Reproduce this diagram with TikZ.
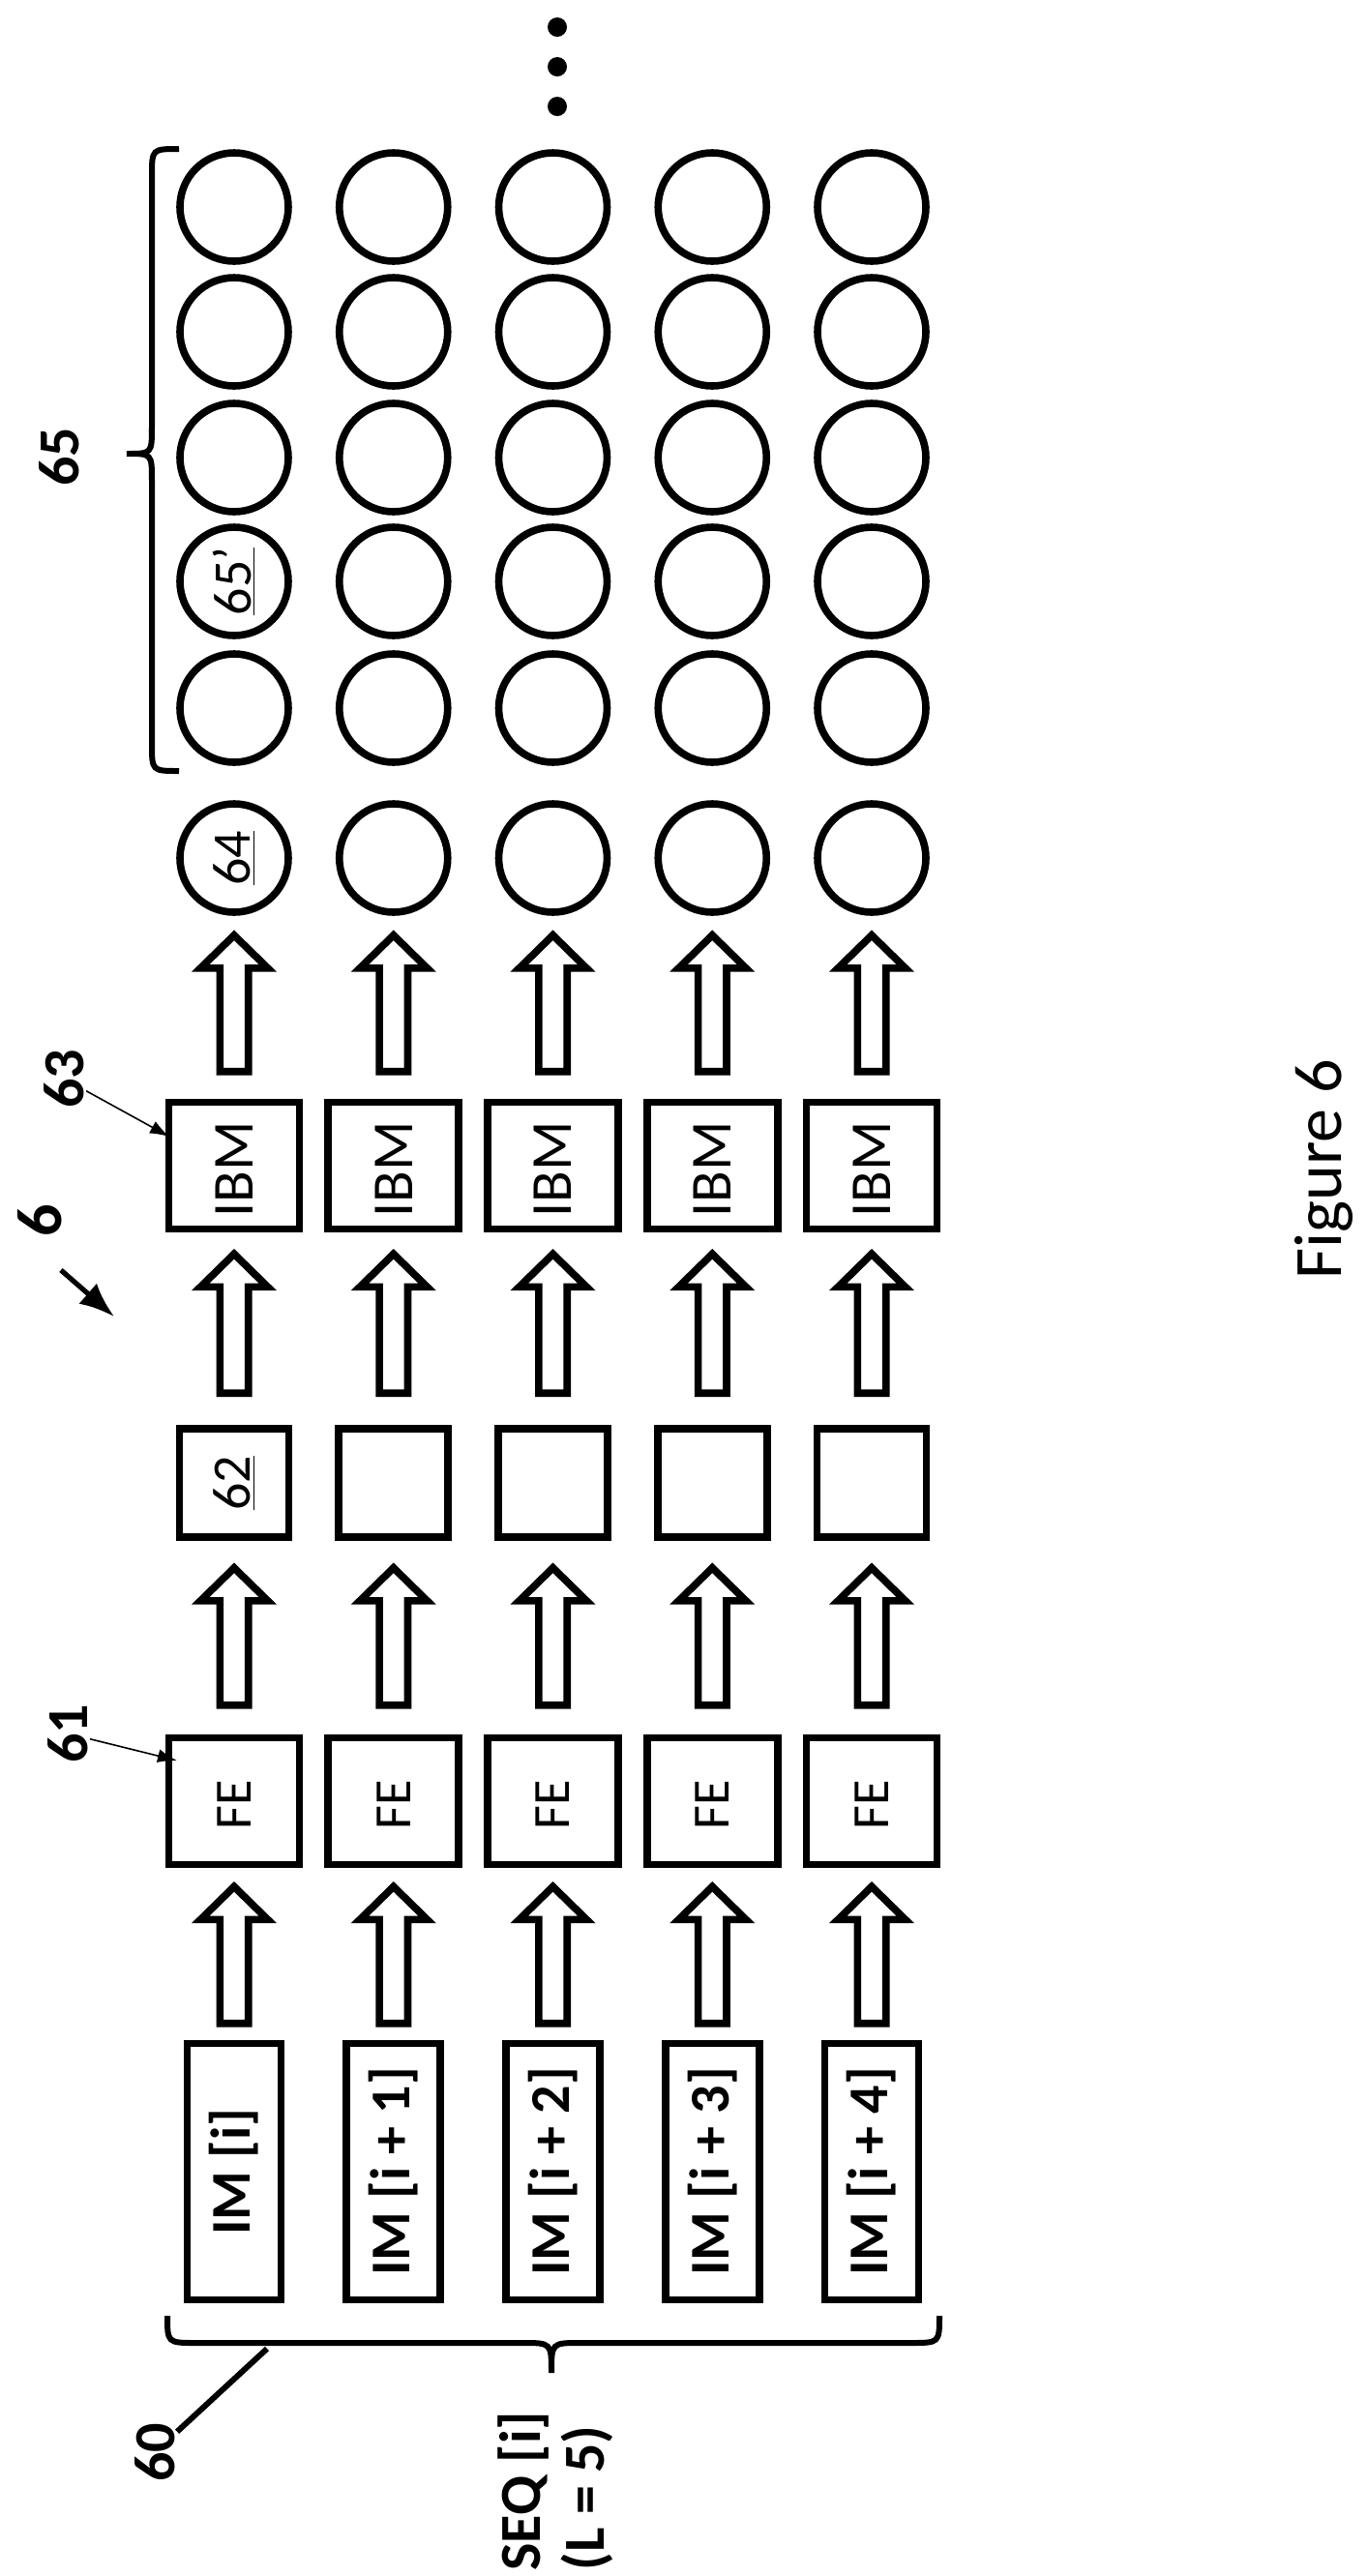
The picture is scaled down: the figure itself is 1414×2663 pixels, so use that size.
\documentclass[tikz,border=0pt]{standalone}
\usepackage{fontspec}
\setmainfont{Carlito}
\usetikzlibrary{shapes.geometric,calc,arrows.meta}
\begin{document}
\begin{tikzpicture}[x=0.5pt,y=-0.5pt,
  lw/.style={line width=3.8pt},
  imbox/.style={lw,draw,rectangle,minimum width=48.5pt,minimum height=132.5pt,inner sep=0pt,font=\fontsize{29}{34}\selectfont\bfseries},
  sqbox/.style={lw,draw,rectangle,minimum width=56.5pt,minimum height=56pt,inner sep=0pt,font=\fontsize{28}{32}\selectfont},
  trap/.style={lw,draw,trapezium,trapezium stretches body,trapezium left angle=75.7,trapezium right angle=75.7,minimum width=67.5pt,minimum height=65.5pt,inner sep=0pt},
  circ/.style={lw,draw,circle,minimum size=56pt,inner sep=0pt,font=\fontsize{28}{32}\selectfont},
  lab/.style={font=\fontsize{30}{34}\selectfont\bfseries,inner sep=1pt},
  thinarr/.style={line width=0.8pt,-{Latex[length=10pt,width=7pt]}},
  blk/.style={lw,line join=miter,to path={let \p1=(\tikztostart),\p2=(\tikztotarget) in
    (\x1-7.35pt,\y1) -- (\x1-7.35pt,\y2-17pt) -- (\x1-17.35pt,\y2-17pt) -- (\x1,\y2) --
    (\x1+17.35pt,\y2-17pt) -- (\x1+7.35pt,\y2-17pt) -- (\x1+7.35pt,\y1) -- cycle}}
]
\useasboundingbox (0,0) rectangle (1414,2663);
\newcommand\barrow[4]{\draw[blk] ($(#1.north)+(0,-#3)$) to ($(#2.south)+(0,#4)$);}
\foreach \i/\t in {0/{IM [i]},1/{IM [i + 1]},2/{IM [i + 2]},3/{IM [i + 3]},4/{IM [i + 4]}}{
  \pgfmathsetmacro\xc{242+164.75*\i}
  \node[imbox] (im\i) at (\xc,2245) {\rotatebox{90}{\t}};
  \node[trap] (fe\i) at (\xc,1862) {};
  \node[font=\fontsize{27}{32}\selectfont] at (\xc,1866) {\rotatebox{90}{FE}};
  \node[sqbox] (sq\i) at (\xc,1533) {};
  \node[trap] (ib\i) at (\xc,1205) {};
  \node[font=\fontsize{30}{34}\selectfont] at (\xc,1209) {\rotatebox{90}{IBM}};
  \node[circ] (c\i) at (\xc,887) {};
  \foreach \j/\yy in {0/732,1/601,2/473,3/343,4/214}{
    \node[circ] (k\i\j) at (\xc,\yy) {};
  }
  \barrow{im\i}{fe\i}{17}{19}
  \barrow{fe\i}{sq\i}{30}{28}
  \barrow{sq\i}{ib\i}{33}{22}
  \barrow{ib\i}{c\i}{28}{20}
}
\node[font=\fontsize{28}{32}\selectfont] at (sq0) {\rotatebox{90}{\underline{62}}};
\node[font=\fontsize{28}{32}\selectfont] at (c0) {\rotatebox{90}{\underline{64}}};
\node[font=\fontsize{28}{32}\selectfont] at (k01) {\rotatebox{90}{\underline{65’}}};
% dots
\foreach \y/\n in {28/a,69/b,110/c}{\fill (576,\y) circle (5pt);}
% brace 65
\draw[line width=3pt] (185,154) .. controls (157,154) .. (157,182) -- (157,441) .. controls (157,469) .. (131,469)
  .. controls (157,469) .. (157,497) -- (157,769) .. controls (157,797) .. (185,797);
\node[lab] (l65) at (61,472) {\rotatebox{90}{65}};
% bottom brace
\draw[line width=3pt] (173,2394) .. controls (173,2422) .. (203,2422) -- (540,2422) .. controls (570,2422) .. (570,2453)
  .. controls (570,2422) .. (600,2422) -- (941,2422) .. controls (971,2422) .. (971,2394);
\node[lab] (l60) at (160,2535) {\rotatebox{90}{60}};
\coordinate (e60) at (276,2428);
\draw[line width=3pt] (l60) -- (e60);
\node[lab,anchor=south,align=left] (seq) at (578,2660) {\rotatebox{90}{\fontsize{30}{33}\selectfont\begin{tabular}{@{}l@{}}SEQ [i]\\(L = 5)\end{tabular}}};
% labels 61, 63, 6
\node[lab] (l61) at (70,1792) {\rotatebox{90}{61}};
\coordinate (e61) at (183,1820);
\draw[thinarr] (l61) -- (e61);
\node[lab] (l63) at (66,1115) {\rotatebox{90}{63}};
\coordinate (e63) at (175,1175);
\draw[thinarr] (l63) -- (e63);
\node[font=\fontsize{33}{36}\selectfont\bfseries,inner sep=1pt] (l6) at (41,1262) {\rotatebox{90}{6}};
\coordinate (s6) at (63,1313);
\coordinate (e6) at (118,1361);
\draw[line width=2.6pt,-{Latex[length=18pt,width=14pt]}] (s6) -- (e6);
\node[font=\fontsize{35}{40}\selectfont] (fig) at (1368,1209) {\rotatebox{90}{Figure 6}};
\end{tikzpicture}
\end{document}
